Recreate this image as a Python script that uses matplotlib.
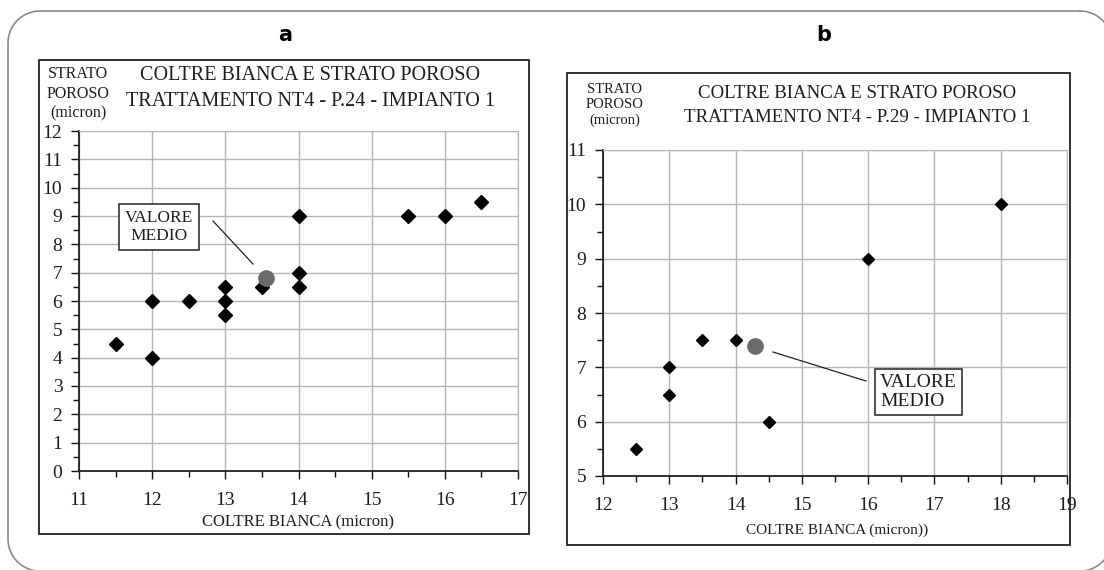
import numpy as np
import matplotlib
matplotlib.use("Agg")
import matplotlib.pyplot as plt
from matplotlib.patches import Rectangle
from matplotlib.lines import Line2D
from matplotlib.ticker import MultipleLocator

# ---- data ----
a_x = [11.5, 12, 12, 12.5, 13, 13, 13, 13.5, 14, 14, 14, 15.5, 16, 16.5]
a_y = [4.5, 6, 4, 6, 6.5, 6, 5.5, 6.5, 9, 7, 6.5, 9, 9, 9.5]
a_mean = (13.55, 6.8)

b_x = [12.5, 13, 13, 13.5, 14, 14.5, 16, 18]
b_y = [5.5, 7, 6.5, 7.5, 7.5, 6, 9, 10]
b_mean = (14.3, 7.4)

title_a = ["COLTRE BIANCA E STRATO POROSO", "TRATTAMENTO NT4 - P.24 - IMPIANTO 1"]
title_b = ["COLTRE BIANCA E STRATO POROSO", "TRATTAMENTO NT4 - P.29 - IMPIANTO 1"]
ylab = "STRATO\nPOROSO\n(micron)"
xlab_a = "COLTRE BIANCA (micron)"
xlab_b = "COLTRE BIANCA (micron))"
note = "VALORE\nMEDIO"

W, H = 1104, 570
fig = plt.figure(figsize=(W / 100, H / 100), dpi=100)
serif = "Liberation Serif"
ink = "#1e1e1e"


def fx(px):
    return px / W


def fy(py):
    return 1 - py / H


# background overlay in pixel units (y downwards)
bg = fig.add_axes([0, 0, 1, 1], zorder=-10)
bg.set_xlim(0, W)
bg.set_ylim(H, 0)
bg.axis("off")

# outer rounded frame as a polyline
L, T, R, B, r = 8, 11, 1112, 571, 32
px, py = [], []
for (cx, cy, a0) in [(R - r, T + r, -90), (R - r, B - r, 0),
                     (L + r, B - r, 90), (L + r, T + r, 180)]:
    t = np.deg2rad(np.linspace(a0, a0 + 90, 30))
    px.extend(cx + r * np.cos(t))
    py.extend(cy + r * np.sin(t))
px.append(px[0])
py.append(py[0])
bg.plot(px, py, color="#8a8a8a", lw=1.2, clip_on=False)

for (x0, y0, x1, y1) in [(39, 60, 529, 534), (567, 73, 1070, 545)]:
    bg.add_patch(Rectangle((x0, y0), x1 - x0, y1 - y0, fill=False,
                           edgecolor="#222222", linewidth=1.3))

fig.text(fx(285), fy(35), "a", ha="center", va="center", fontsize=15,
         fontweight="bold", family="DejaVu Sans")
fig.text(fx(824), fy(35), "b", ha="center", va="center", fontsize=15,
         fontweight="bold", family="DejaVu Sans")


def style(ax, xlim, ylim, fs):
    ax.set_xlim(*xlim)
    ax.set_ylim(*ylim)
    ax.xaxis.set_major_locator(MultipleLocator(1))
    ax.yaxis.set_major_locator(MultipleLocator(1))
    ax.xaxis.set_minor_locator(MultipleLocator(0.5))
    ax.yaxis.set_minor_locator(MultipleLocator(0.5))
    ax.grid(True, which="major", color="#b4b4b4", linewidth=1.0)
    ax.set_axisbelow(True)
    for s in ["top", "right"]:
        ax.spines[s].set_color("#b4b4b4")
    for s in ["left", "bottom"]:
        ax.spines[s].set_color("#111111")
        ax.spines[s].set_linewidth(1.2)
    ax.tick_params(which="both", direction="out", color="#111111", width=1.0,
                   labelcolor=ink)
    ax.tick_params(which="major", length=6, labelsize=fs, pad=6)
    ax.tick_params(which="minor", length=4)
    for lab in ax.get_xticklabels() + ax.get_yticklabels():
        lab.set_family(serif)


def leader(x0, y0, x1, y1):
    fig.add_artist(Line2D([fx(x0), fx(x1)], [fy(y0), fy(y1)],
                          transform=fig.transFigure, color="#222222",
                          lw=0.9, zorder=5))


# ---- panel a ----
axa = fig.add_axes([fx(79), fy(471), fx(518 - 79), (471 - 131) / H])
style(axa, (11, 17), (0, 12), 14)
axa.tick_params(axis="x", which="major", pad=9)
axa.plot(a_x, a_y, linestyle="none", marker="D", color="black", ms=7)
axa.plot([a_mean[0]], [a_mean[1]], linestyle="none", marker="o",
         color="#6b6b6b", ms=11)
fig.text(fx(310), fy(75), title_a[0], ha="center", va="center",
         fontsize=14.5, family=serif, color=ink)
fig.text(fx(310), fy(102), title_a[1], ha="center", va="center",
         fontsize=14.5, family=serif, color=ink)
fig.text(fx(78), fy(94), ylab, ha="center", va="center", fontsize=11.5,
         family=serif, linespacing=1.3, color=ink)
fig.text(fx(298), fy(522), xlab_a, ha="center", va="center", fontsize=12,
         family=serif, color=ink)
leader(213, 221, 253, 264)
fig.text(fx(159), fy(227), note, ha="center", va="center", fontsize=12.5,
         family=serif, linespacing=1.15, color=ink,
         bbox=dict(boxstyle="square,pad=0.35", facecolor="white",
                   edgecolor="#222222", linewidth=1.1))

# ---- panel b ----
axb = fig.add_axes([fx(603), fy(476), fx(1067 - 603), (476 - 150) / H])
style(axb, (12, 19), (5, 11), 14)
axb.tick_params(axis="x", which="major", pad=9)
axb.plot(b_x, b_y, linestyle="none", marker="D", color="black", ms=6.6)
axb.plot([b_mean[0]], [b_mean[1]], linestyle="none", marker="o",
         color="#6b6b6b", ms=11)
fig.text(fx(857), fy(93), title_b[0], ha="center", va="center",
         fontsize=13.6, family=serif, color=ink)
fig.text(fx(857), fy(117), title_b[1], ha="center", va="center",
         fontsize=13.6, family=serif, color=ink)
fig.text(fx(615), fy(105), ylab, ha="center", va="center", fontsize=10.5,
         family=serif, linespacing=1.2, color=ink)
fig.text(fx(837), fy(530), xlab_b, ha="center", va="center", fontsize=11,
         family=serif, color=ink)
leader(773, 352, 866, 381)
fig.text(fx(880), fy(392), note, ha="left", va="center", fontsize=14,
         family=serif, linespacing=1.15, color=ink,
         bbox=dict(boxstyle="square,pad=0.25", facecolor="white",
                   edgecolor="#222222", linewidth=1.1))

fig.savefig("out.png", dpi=100)
